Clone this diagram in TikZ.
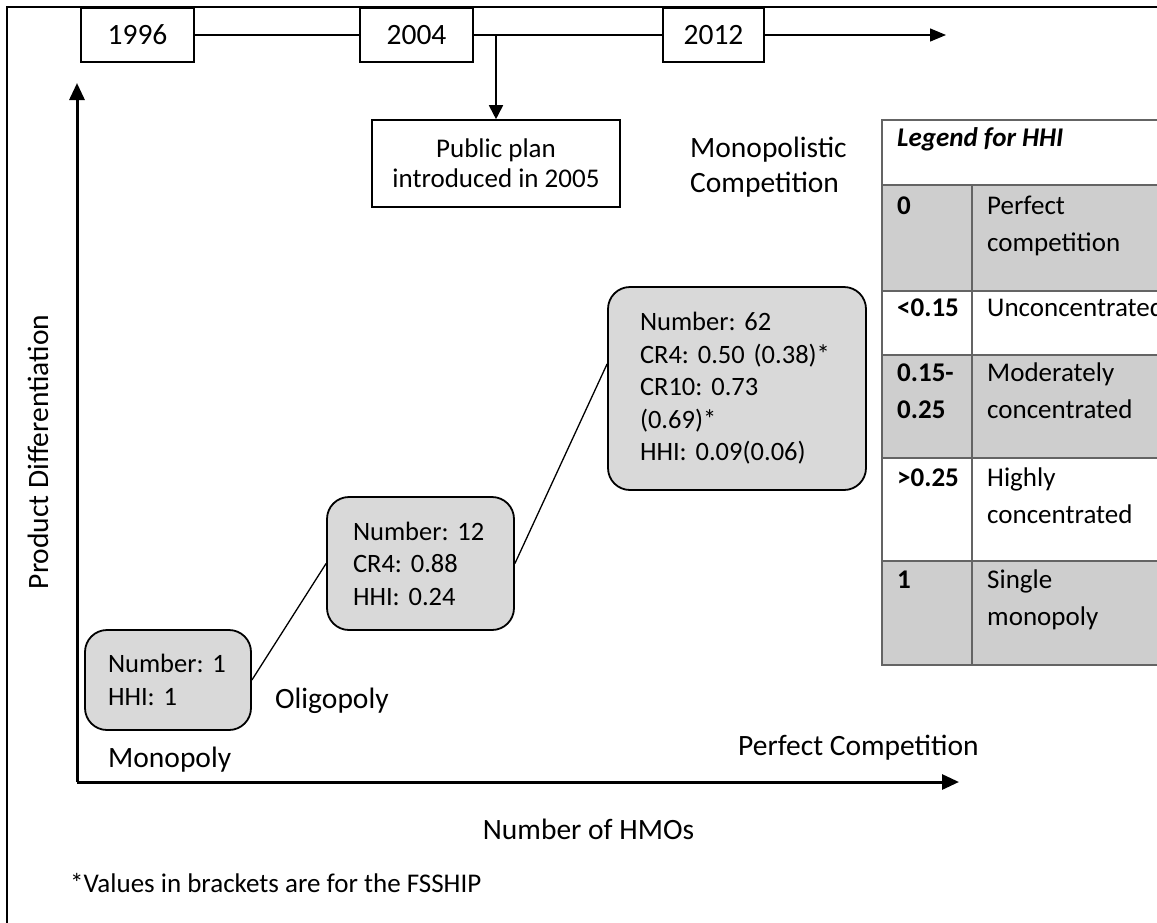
\documentclass[tikz,border=0pt]{standalone}
\usepackage{fontspec}
\setmainfont{Carlito}
\usetikzlibrary{arrows.meta,calc}
\definecolor{boxgray}{RGB}{217,217,217}
\definecolor{rowgray}{RGB}{206,206,206}
\definecolor{rulegray}{RGB}{100,100,100}
\frenchspacing
\begin{document}
\begin{tikzpicture}[x=1pt,y=-1pt,
  every node/.style={font=\fontsize{27}{32.5}\selectfont},
  big/.style={font=\fontsize{29.5}{35}\selectfont},
  yearbox/.style={draw, line width=1.6pt, minimum height=54, inner sep=0},
  hmobox/.style={draw, line width=1.8pt, fill=boxgray, rounded corners=22, inner ysep=0, align=left, font=\fontsize{26.5}{32.5}\selectfont},
  tline/.style={line width=1.4pt},
  tarrow/.style={line width=1.4pt, -{Triangle[length=16pt,width=13pt]}},
  axis/.style={line width=3pt, -{Triangle[length=17pt,width=15pt]}},
  link/.style={line width=1.3pt},
  label/.style={inner sep=0},
  cell/.style={inner sep=0, align=left, font=\fontsize{27}{37}\selectfont},
  rule/.style={draw=rulegray, line width=2pt}]
\useasboundingbox (0,0) rectangle (1157,922);
\clip (0,0) rectangle (1157,922);
% frame
\draw[line width=1.2pt] (7,940) -- (7,7) -- (1180,7);
% timeline
\node[yearbox, big, minimum width=113] (y1996) at (137.5,35) {1996};
\node[yearbox, big, minimum width=113] (y2004) at (416.5,35) {2004};
\node[yearbox, big, minimum width=101] (y2012) at (713.5,35) {2012};
\coordinate (tlend) at (946,35);
\coordinate (branch) at (496,35);
\node[yearbox, minimum width=248, minimum height=87, align=center, font=\fontsize{27}{30}\selectfont] (plan) at (496,163.5) {Public plan\\introduced in 2005};
\draw[tline] (y1996) -- (y2004);
\draw[tline] (y2004) -- (y2012);
\draw[tarrow] (y2012) -- (tlend);
\draw[line width=1.8pt, -{Triangle[length=14pt,width=14pt]}] (branch) -- (plan);
\node[label, anchor=west, align=left, big] (mcomp) at (690,167.5) {\strut Monopolistic\\\strut Competition};
% axes
\coordinate (origin) at (77,782);
\coordinate (ytop) at (77,83);
\coordinate (xend) at (959,782);
\draw[axis] (origin) -- (ytop);
\draw[axis] (origin) -- (xend);
\node[label, big, anchor=base, rotate=90] (ylab) at (48,452) {Product Differentiation};
\node[label, big, anchor=base] (xlab) at (588.5,839) {Number of HMOs};
% market boxes
\node[hmobox, minimum width=166, minimum height=100, text width=120, inner xsep=23] (b1) at (168,680) {\mbox{Number: 1}\\\mbox{HHI: 1}};
\node[hmobox, minimum width=187, minimum height=133, text width=135, inner xsep=26] (b2) at (420.5,563.5) {\mbox{Number: 12}\\\mbox{CR4: 0.88}\\\mbox{HHI: 0.24}};
\node[hmobox, minimum width=258, minimum height=203, text width=194, inner xsep=32] (b3) at (737,388.5) {\mbox{Number: 62}\\\mbox{CR4: 0.50 (0.38)*}\\\mbox{CR10: 0.73}\\\mbox{(0.69)*}\\\mbox{HHI: 0.09(0.06)}};
\draw[link] (b1.east) -- (b2.west);
\draw[link] (b2.east) -- ($(b3.north west)!0.38!(b3.south west)$);
% market labels
\node[label, big, anchor=base west] (olig) at (275,708) {Oligopoly};
\node[label, big, anchor=base west] (mono) at (108,767) {Monopoly};
\node[label, big, anchor=base west] (pcomp) at (738,755) {Perfect Competition};
\node[label, anchor=base west] (foot) at (70,892) {*Values in brackets are for the FSSHIP};
% legend table
\fill[rowgray] (882,185) rectangle (1180,291);
\fill[rowgray] (882,355) rectangle (1180,458);
\fill[rowgray] (882,561) rectangle (1180,665);
\draw[rule] (882,120) rectangle (1180,665);
\foreach \yy in {185,291,355,458,561} \draw[rule] (882,\yy) -- (1180,\yy);
\draw[rule] (972,185) -- (972,665);
\node[label, anchor=base west] (lgh) at (897,146) {\textbf{\textit{Legend for HHI}}};
\node[label, anchor=base west] (k0) at (897,214) {\textbf{0}};
\node[cell, anchor=west] (v0) at (987,225.1) {\strut Perfect\\\strut competition};
\node[label, anchor=base west] (k1) at (897,316) {\textbf{<0.15}};
\node[label, anchor=base west] (v1) at (987,316) {Unconcentrated};
\node[cell, anchor=west] (k2) at (897,392.1) {\strut\textbf{0.15-}\\\strut\textbf{0.25}};
\node[cell, anchor=west] (v2) at (987,392.1) {\strut Moderately\\\strut concentrated};
\node[label, anchor=base west] (k3) at (897,486) {\textbf{>0.25}};
\node[cell, anchor=west] (v3) at (987,497.1) {\strut Highly\\\strut concentrated};
\node[label, anchor=base west] (k4) at (897,588) {\textbf{1}};
\node[cell, anchor=west] (v4) at (987,599.1) {\strut Single\\\strut monopoly};
\end{tikzpicture}
\end{document}
